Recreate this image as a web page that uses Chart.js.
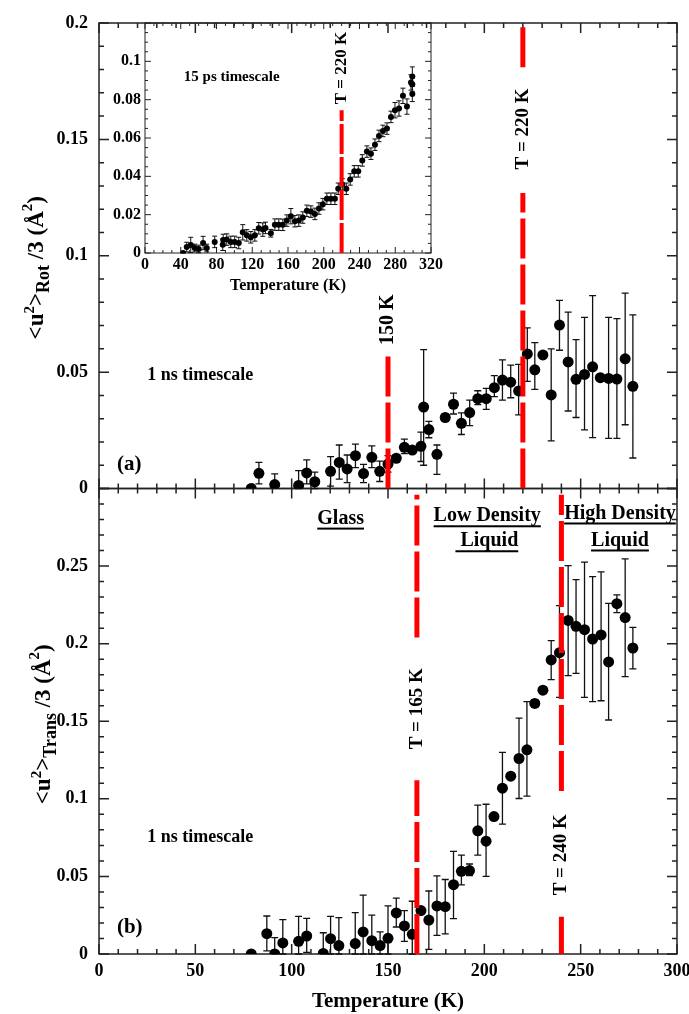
<!DOCTYPE html>
<html>
<head>
<meta charset="utf-8">
<script src="https://cdn.jsdelivr.net/npm/chart.js@4.4.1/dist/chart.umd.min.js"></script>
<style>
  html, body { margin: 0; padding: 0; background: #fff; }
  #wrap { position: relative; width: 689px; height: 1014px; }
  #mainChart { position: absolute; left: 0; top: 0; }
  #insetChart { position: absolute; left: 100px; top: 0; }
</style>
</head>
<body>
<div id="wrap">
  <canvas id="mainChart" width="689" height="1014"></canvas>
  <canvas id="insetChart" width="345" height="300"></canvas>
</div>
<script>
// panel (a): rotational MSD, 1 ns
const rotT   = [79, 83, 91.2, 103.6, 107.8, 112, 120.2, 124.7, 128.8, 133.1, 137.3, 141.6, 145.7, 150, 154.3, 158.5, 162.6, 167.1, 168.5, 171.2, 175.4, 179.7, 184, 188.1, 192.4, 196.6, 201, 205.2, 209.4, 213.7, 217.8, 222.3, 226.2, 230.4, 234.7, 239, 243.5, 247.6, 252, 256.2, 260.2, 264.5, 268.8, 273.1, 277.1];
const rotVal = [0, 0.0065, 0.0017, 0.0013, 0.0067, 0.0029, 0.0074, 0.0112, 0.0084, 0.0141, 0.0064, 0.0134, 0.0074, 0.0105, 0.013, 0.0177, 0.0165, 0.0181, 0.035, 0.0253, 0.0147, 0.0305, 0.0362, 0.028, 0.0326, 0.0386, 0.0386, 0.0433, 0.0466, 0.0457, 0.0419, 0.0578, 0.051, 0.0574, 0.0402, 0.0702, 0.0544, 0.0469, 0.049, 0.0523, 0.0476, 0.0473, 0.047, 0.0557, 0.0439];
const rotLo  = [null, 0.002, 0.0017, 0, 0.002, 0, 0.001, 0.004, 0.0025, 0.009, 0.0025, 0.009, 0.003, 0.007, null, 0.015, null, 0.0116, 0.010, 0.0218, 0.0061, 0.029, 0.032, 0.0232, 0.027, 0.036, 0.034, 0.0395, 0.038, 0.039, 0.0316, 0.046, 0.0426, null, 0.0205, 0.0594, 0.0333, 0.0305, 0.0252, 0.0219, null, 0.0215, 0.0215, 0.0274, 0.0131];
const rotHi  = [null, 0.0112, 0.0063, 0.0077, 0.0123, 0.007, 0.0137, 0.0187, 0.0144, 0.0191, 0.0104, 0.0183, 0.0118, 0.0141, null, 0.0212, null, 0.0242, 0.0597, 0.0288, 0.0187, 0.032, 0.041, 0.0325, 0.038, 0.042, 0.043, 0.0485, 0.0553, 0.053, 0.0533, 0.069, 0.0627, null, 0.06, 0.0808, 0.0758, 0.064, 0.0735, 0.0829, null, 0.0735, 0.073, 0.0839, 0.0746];

// panel (b): translational MSD, 1 ns
const transT   = [79, 87.1, 91.2, 95.4, 103.6, 107.8, 116.4, 120.2, 124.5, 133, 137.1, 141.6, 145.9, 150, 154.3, 158.5, 162.6, 167.1, 171.2, 175.4, 179.7, 184, 188.1, 192.3, 196.6, 200.9, 205, 209.4, 213.7, 218, 222.1, 226.2, 230.4, 234.7, 239, 243.5, 247.6, 252, 256.2, 260.6, 264.5, 268.8, 273.1, 277.1];
const transVal = [0, 0.0131, 0, 0.0071, 0.0082, 0.0116, 0.0004, 0.0099, 0.0054, 0.0067, 0.0142, 0.0086, 0.0054, 0.0101, 0.0265, 0.0181, 0.0127, 0.028, 0.0219, 0.031, 0.0305, 0.0447, 0.0533, 0.0538, 0.0794, 0.0727, 0.0886, 0.1069, 0.1146, 0.126, 0.1316, 0.1615, 0.170, 0.1895, 0.1942, 0.215, 0.2112, 0.209, 0.203, 0.2056, 0.1882, 0.2258, 0.2168, 0.1972];
const transLo  = [null, 0.002, 0, 0, 0, 0.001, 0, 0, 0, 0, 0, 0, 0, 0, 0.0174, 0.0082, 0, null, 0.003, 0.012, 0.013, 0.0228, 0.0445, 0.0505, 0.0637, 0.05, null, 0.0837, null, 0.1002, 0.1018, 0.159, null, 0.1768, 0.1654, 0.1794, 0.1809, 0.1654, 0.1626, 0.1632, 0.1508, 0.22, 0.1787, 0.1837];
const transHi  = [null, 0.0245, 0.0105, 0.0221, 0.0243, 0.023, 0.0137, 0.0243, 0.0235, 0.0267, 0.038, 0.025, 0.0142, 0.031, 0.036, 0.028, 0.034, null, 0.0406, 0.0503, 0.048, 0.0662, 0.0637, 0.058, 0.0959, 0.0965, null, 0.13, null, 0.152, 0.1626, 0.164, null, 0.202, 0.2245, 0.2503, 0.2413, 0.2525, 0.2432, 0.2463, 0.226, 0.2314, 0.2546, 0.2105];

// inset: rotational MSD, 15 ps
const insetT   = [42.6, 46.7, 51.2, 55.6, 60.1, 65, 69.1, 78, 87, 87.5, 91.5, 96, 100.4, 104.9, 109.4, 113.9, 118.4, 122.9, 127.3, 131.8, 134.8, 140.8, 145.3, 149.7, 154.2, 158.7, 163.2, 167.7, 172.1, 176.6, 181.1, 185.6, 190.1, 194.6, 199, 203.5, 208, 212.5, 216.2, 220.7, 225.2, 229.6, 234.1, 238.6, 243.1, 248.3, 252.8, 257.3, 261.8, 266.2, 270.7, 275.2, 279.7, 284.2, 288.6, 293.1, 297.6, 299.1, 299.1, 299.1];
const insetVal = [0, 0.0031, 0.0042, 0.0026, 0.0021, 0.0052, 0.0026, 0.0058, 0.0043, 0.0068, 0.0070, 0.0058, 0.0058, 0.0052, 0.0108, 0.0092, 0.0082, 0.0092, 0.0129, 0.0122, 0.0131, 0.0103, 0.0148, 0.0148, 0.0147, 0.0169, 0.0192, 0.0166, 0.0169, 0.0185, 0.0220, 0.0216, 0.0204, 0.0232, 0.0255, 0.0283, 0.0283, 0.0283, 0.0335, 0.0358, 0.0335, 0.0384, 0.0426, 0.0426, 0.0483, 0.0529, 0.0518, 0.0565, 0.0611, 0.0637, 0.0649, 0.0710, 0.0745, 0.0754, 0.0820, 0.0764, 0.0890, 0.0921, 0.0881, 0.0830];
const insetErr = [0, 0.0025, 0.004, 0.002, 0.002, 0.0035, 0.002, 0.003, 0.003, 0.003, 0.003, 0.003, 0.003, 0.003, 0.004, 0.003, 0.003, 0.003, 0.003, 0.0035, 0.003, 0.002, 0.003, 0.003, 0.003, 0.003, 0.004, 0.003, 0.003, 0.003, 0.003, 0.003, 0.003, 0.003, 0.003, 0.003, 0.003, 0.003, 0.003, 0.003, 0.003, 0.003, 0.003, 0.003, 0.003, 0.003, 0.003, 0.003, 0.003, 0.003, 0.003, 0.003, 0.004, 0.004, 0.004, 0.004, 0.004, 0.005, 0.004, 0.004];

// transition temperatures (K)
const rotTransitions = [150, 220];
const transTransitions = [165, 240];
const insetTransition = 220;

const SERIF = '"Liberation Serif", "Times New Roman", serif';
const bold = size => ({ family: SERIF, size: size, weight: 'bold' });

function eachTick(min, max, minor, major, fn) {
  const n = Math.round((max - min) / minor);
  for (let i = 0; i <= n; i++) {
    const v = min + i * minor;
    const r = v / major;
    fn(v, Math.abs(r - Math.round(r)) < 1e-6);
  }
}

// box frame with inward ticks on all four sides
const frameTicks = {
  id: 'frameTicks',
  beforeDatasetsDraw(chart, args, o) {
    const ctx = chart.ctx, xs = chart.scales.x;
    const L = chart.chartArea.left, R = chart.chartArea.right;
    ctx.save();
    ctx.strokeStyle = o.color;
    ctx.lineWidth = o.width;
    o.panels.forEach(p => {
      const ys = chart.scales[p.axis];
      const T = ys.top, B = ys.bottom;
      ctx.strokeRect(L, T, R - L, B - T);
      ctx.beginPath();
      eachTick(xs.min, xs.max, o.xMinor, o.xMajor, (v, major) => {
        const x = xs.getPixelForValue(v), len = major ? o.majorLen : o.minorLen;
        ctx.moveTo(x, B); ctx.lineTo(x, B - len);
        ctx.moveTo(x, T); ctx.lineTo(x, T + len);
      });
      eachTick(ys.min, ys.max, p.minor, p.major, (v, major) => {
        const y = ys.getPixelForValue(v), len = major ? o.majorLen : o.minorLen;
        ctx.moveTo(L, y); ctx.lineTo(L + len, y);
        ctx.moveTo(R, y); ctx.lineTo(R - len, y);
      });
      ctx.stroke();
    });
    ctx.restore();
  }
};

const errorBars = {
  id: 'errorBars',
  beforeDatasetsDraw(chart, args, o) {
    const ctx = chart.ctx;
    chart.data.datasets.forEach((ds, i) => {
      if (!ds.errHi) return;
      const meta = chart.getDatasetMeta(i);
      const xs = meta.xScale, ys = meta.yScale;
      ctx.save();
      ctx.strokeStyle = o.color;
      ctx.lineWidth = o.width;
      ctx.beginPath();
      ds.data.forEach((p, j) => {
        const lo = ds.errLo[j], hi = ds.errHi[j];
        if (lo == null || hi == null) return;
        const x = xs.getPixelForValue(p.x);
        const y1 = ys.getPixelForValue(lo), y2 = ys.getPixelForValue(hi);
        ctx.moveTo(x, y1); ctx.lineTo(x, y2);
        ctx.moveTo(x - o.cap, y2); ctx.lineTo(x + o.cap, y2);
        ctx.moveTo(x - o.cap, y1); ctx.lineTo(x + o.cap, y1);
      });
      ctx.stroke();
      ctx.restore();
    });
  }
};

// free text: labels, region names, rotated transition labels, y titles
const notes = {
  id: 'notes',
  afterDraw(chart, args, o) {
    const ctx = chart.ctx, xs = chart.scales.x;
    (o.items || []).forEach(it => {
      const ys = chart.scales[it.axis];
      const x = xs.getPixelForValue(it.x), y = ys.getPixelForValue(it.y);
      ctx.save();
      ctx.font = 'bold ' + it.size + 'px ' + SERIF;
      ctx.fillStyle = '#000';
      ctx.textAlign = it.align || 'center';
      ctx.textBaseline = 'middle';
      ctx.translate(x, y);
      if (it.rot) ctx.rotate(-Math.PI / 2);
      ctx.fillText(it.text, 0, 0);
      if (it.underline) {
        const w = ctx.measureText(it.text).width;
        const x0 = it.align === 'left' ? 0 : -w / 2;
        ctx.fillRect(x0, it.size * 0.45, w, 2);
      }
      ctx.restore();
    });
    (o.titles || []).forEach(t => {
      const ys = chart.scales[t.axis];
      const cy = (ys.top + ys.bottom) / 2 + (t.shift || 0);
      ctx.save();
      ctx.translate(t.x, cy);
      ctx.rotate(-Math.PI / 2);
      ctx.fillStyle = '#000';
      ctx.textBaseline = 'alphabetic';
      let w = 0;
      t.parts.forEach(p => { ctx.font = 'bold ' + p[1] + 'px ' + SERIF; w += ctx.measureText(p[0]).width; });
      let px = -w / 2;
      t.parts.forEach(p => {
        ctx.font = 'bold ' + p[1] + 'px ' + SERIF;
        ctx.fillText(p[0], px, p[2]);
        px += ctx.measureText(p[0]).width;
      });
      ctx.restore();
    });
  }
};

function points(xv, yv, lo, hi, axis, r) {
  return {
    data: xv.map((x, i) => ({ x: x, y: yv[i] })),
    errLo: lo, errHi: hi,
    yAxisID: axis,
    pointRadius: r, pointHoverRadius: r,
    pointBackgroundColor: '#000', pointBorderWidth: 0,
    showLine: false, order: 1
  };
}

function vline(T, segs, axis, width, dash) {
  const pts = [];
  segs.forEach((s, i) => {
    if (i) pts.push({ x: T, y: null });
    pts.push({ x: T, y: s[0] }, { x: T, y: s[1] });
  });
  return {
    data: pts, yAxisID: axis, showLine: true, spanGaps: false,
    borderColor: '#ff0000', borderWidth: width, borderDash: dash, borderCapStyle: 'butt',
    pointRadius: 0, pointHoverRadius: 0, order: 0
  };
}

const yTicks = (size, hideAbove) => ({
  font: bold(size), color: '#000', padding: 11,
  callback: v => (v > hideAbove ? '' : String(+v.toFixed(2)))
});

const titleParts = sub => [['<u', 23, 0], ['2', 15, -9], ['>', 23, 0], [sub, 18, 6], [' /3 (\u00c5', 23, 0], ['2', 15, -11], [')', 23, 0]];

new Chart(document.getElementById('mainChart'), {
  type: 'scatter',
  data: {
    datasets: [
      vline(rotTransitions[0], [[0, 0.057]], 'yTop', 5, [40, 6]),
      vline(rotTransitions[1], [[0, 0.127], [0.181, 0.1985]], 'yTop', 5, [40, 6]),
      vline(transTransitions[0], [[0, 0.112], [0.204, 0.296]], 'yBot', 5, [40, 6]),
      vline(transTransitions[1], [[0, 0.024], [0.105, 0.296]], 'yBot', 5, [40, 6]),
      points(rotT, rotVal, rotLo, rotHi, 'yTop', 5.5),
      points(transT, transVal, transLo, transHi, 'yBot', 5.5)
    ]
  },
  options: {
    responsive: false,
    animation: false,
    layout: { padding: { top: 23, right: 12, bottom: 0, left: 0 } },
    plugins: {
      legend: { display: false },
      tooltip: { enabled: false },
      frameTicks: {
        color: '#222', width: 1.5, xMajor: 50, xMinor: 10, majorLen: 10, minorLen: 5,
        panels: [
          { axis: 'yTop', major: 0.05, minor: 0.01 },
          { axis: 'yBot', major: 0.05, minor: 0.01 }
        ]
      },
      errorBars: { color: '#111', width: 1.3, cap: 3.5 },
      notes: {
        items: [
          { text: '1 ns timescale', x: 25, y: 0.0485, axis: 'yTop', size: 18, align: 'left' },
          { text: '(a)', x: 9.3, y: 0.0103, axis: 'yTop', size: 21, align: 'left' },
          { text: '150 K', x: rotTransitions[0], y: 0.0725, axis: 'yTop', size: 20, rot: true },
          { text: 'T = 220 K', x: rotTransitions[1], y: 0.1545, axis: 'yTop', size: 19, rot: true },
          { text: '1 ns timescale', x: 25, y: 0.0755, axis: 'yBot', size: 18, align: 'left' },
          { text: '(b)', x: 9.3, y: 0.0168, axis: 'yBot', size: 21, align: 'left' },
          { text: 'T = 165 K', x: transTransitions[0], y: 0.158, axis: 'yBot', size: 19, rot: true },
          { text: 'T = 240 K', x: transTransitions[1], y: 0.0639, axis: 'yBot', size: 19, rot: true },
          { text: 'Glass', x: 125.4, y: 0.2806, axis: 'yBot', size: 20, underline: true },
          { text: 'Low Density', x: 201.5, y: 0.2821, axis: 'yBot', size: 20, underline: true },
          { text: ' Liquid', x: 201.3, y: 0.266, axis: 'yBot', size: 20, underline: true },
          { text: 'High Density', x: 270.4, y: 0.2839, axis: 'yBot', size: 20, underline: true },
          { text: 'Liquid', x: 270.4, y: 0.2665, axis: 'yBot', size: 20, underline: true }
        ],
        titles: [
          { axis: 'yTop', x: 43, shift: 12, parts: titleParts('Rot') },
          { axis: 'yBot', x: 50, shift: 3, parts: titleParts('Trans') }
        ]
      }
    },
    scales: {
      x: {
        type: 'linear', position: 'bottom', min: 0, max: 300,
        ticks: { stepSize: 50, font: bold(18), color: '#000', padding: 7, maxRotation: 0, autoSkip: false },
        grid: { display: false, drawTicks: false },
        border: { display: false },
        title: { display: true, text: 'Temperature (K)', font: bold(21), color: '#000', padding: { top: 0, bottom: 0 } },
        afterFit: s => { s.height = 60; s.paddingLeft = 0; s.paddingRight = 0; }
      },
      yBot: {
        type: 'linear', position: 'left', min: 0, max: 0.3, stack: 'panels', stackWeight: 1,
        ticks: Object.assign({ stepSize: 0.05 }, yTicks(18, 0.29)),
        grid: { display: false, drawTicks: false },
        border: { display: false },
        afterFit: s => { s.width = 99; s.paddingTop = 0; s.paddingBottom = 0; }
      },
      yTop: {
        type: 'linear', position: 'left', min: 0, max: 0.2, stack: 'panels', stackWeight: 1,
        ticks: Object.assign({ stepSize: 0.05 }, yTicks(18, 0.21)),
        grid: { display: false, drawTicks: false },
        border: { display: false },
        afterFit: s => { s.width = 99; s.paddingTop = 0; s.paddingBottom = 0; }
      }
    }
  },
  plugins: [frameTicks, errorBars, notes]
});

new Chart(document.getElementById('insetChart'), {
  type: 'scatter',
  data: {
    datasets: [
      vline(insetTransition, [[0, 0.0745]], 'y', 4, [30, 3]),
      points(insetT, insetVal,
        insetVal.map((v, i) => v - insetErr[i]),
        insetVal.map((v, i) => v + insetErr[i]), 'y', 3)
    ]
  },
  options: {
    responsive: false,
    animation: false,
    layout: { padding: { top: 23, right: 14, bottom: 0, left: 0 } },
    plugins: {
      legend: { display: false },
      tooltip: { enabled: false },
      frameTicks: {
        color: '#222', width: 1, xMajor: 40, xMinor: 10, majorLen: 6, minorLen: 3,
        panels: [{ axis: 'y', major: 0.02, minor: 0.005 }]
      },
      errorBars: { color: '#111', width: 1, cap: 2.5 },
      notes: {
        items: [
          { text: '15 ps timescale', x: 97, y: 0.092, axis: 'y', size: 15 },
          { text: 'T = 220 K', x: insetTransition, y: 0.0965, axis: 'y', size: 17, rot: true }
        ]
      }
    },
    scales: {
      x: {
        type: 'linear', position: 'bottom', min: 0, max: 320,
        ticks: { stepSize: 40, font: bold(16), color: '#000', padding: 2, maxRotation: 0, autoSkip: false },
        grid: { display: false, drawTicks: false },
        border: { display: false },
        title: { display: true, text: 'Temperature (K)', font: bold(16), color: '#000', padding: { top: 0, bottom: 5 } },
        afterFit: s => { s.height = 47; s.paddingLeft = 0; s.paddingRight = 0; }
      },
      y: {
        type: 'linear', position: 'left', min: 0, max: 0.12,
        ticks: Object.assign({ stepSize: 0.02 }, yTicks(16, 0.11), { padding: 4 }),
        grid: { display: false, drawTicks: false },
        border: { display: false },
        afterFit: s => { s.width = 45; s.paddingTop = 0; s.paddingBottom = 0; }
      }
    }
  },
  plugins: [frameTicks, errorBars, notes]
});
</script>
</body>
</html>
